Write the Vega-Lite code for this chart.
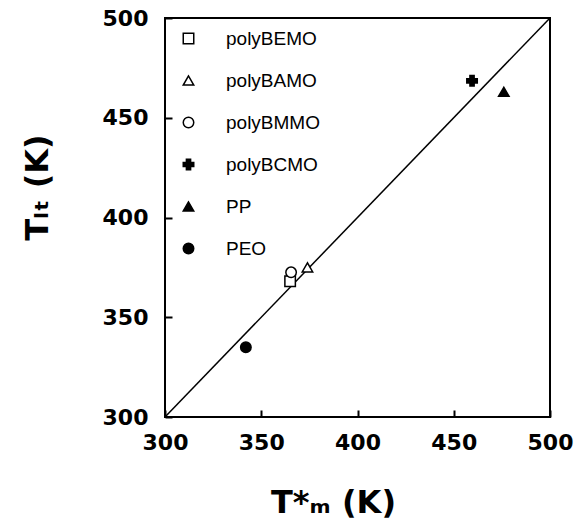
{
  "$schema": "https://vega.github.io/schema/vega-lite/v6.json",
  "width": 385,
  "height": 399,
  "autosize": {"type": "none"},
  "padding": {"left": 165, "top": 18, "right": 27, "bottom": 109},
  "background": "white",
  "config": {
    "view": {"stroke": "black", "strokeWidth": 2},
    "axis": {
      "grid": false,
      "domain": false,
      "labelFlush": false,
      "tickColor": "black",
      "tickSize": -7,
      "tickWidth": 2,
      "labelFont": "DejaVu Sans",
      "labelFontWeight": "bold",
      "labelFontSize": 22,
      "labelColor": "black",
      "titleFont": "DejaVu Sans",
      "titleFontWeight": "bold",
      "titleFontSize": 32,
      "titleColor": "black"
    }
  },
  "layer": [
    {
      "data": {"values": [{"x": 300, "y": 300}, {"x": 500, "y": 500}]},
      "mark": {"type": "line", "color": "black", "strokeWidth": 1.5},
      "encoding": {
        "x": {"field": "x", "type": "quantitative", "scale": {"domain": [300, 500]},
          "axis": {"values": [300, 350, 400, 450, 500], "title": "T*ₘ  (K)", "labelPadding": 22,
            "titleX": 168, "titleY": 85, "titleBaseline": "middle", "titleAlign": "center"}},
        "y": {"field": "y", "type": "quantitative", "scale": {"domain": [300, 500]},
          "axis": {"values": [300, 350, 400, 450, 500], "title": "Tₗₜ  (K)", "labelPadding": 24,
            "titleX": -128, "titleY": 169, "titleAngle": -90, "titleBaseline": "middle", "titleAlign": "center"}}
      }
    },
    {
      "data": {"values": [
        {"series": "polyBEMO", "tm": 365, "tlt": 368},
        {"series": "polyBAMO", "tm": 374, "tlt": 375},
        {"series": "polyBMMO", "tm": 365.5, "tlt": 372.5},
        {"series": "polyBCMO", "tm": 459.5, "tlt": 468.5},
        {"series": "PP", "tm": 476, "tlt": 463},
        {"series": "PEO", "tm": 342, "tlt": 335}
      ]},
      "mark": {"type": "point", "filled": true, "stroke": "black", "strokeWidth": 1.5, "size": 110, "opacity": 1},
      "encoding": {
        "x": {"field": "tm", "type": "quantitative"},
        "y": {"field": "tlt", "type": "quantitative"},
        "shape": {"field": "series", "type": "nominal",
          "scale": {"domain": ["polyBEMO", "polyBAMO", "polyBMMO", "polyBCMO", "PP", "PEO"],
            "range": ["square", "triangle-up", "circle", "cross", "triangle-up", "circle"]},
          "legend": {"title": null, "orient": "none", "legendX": 14, "legendY": 11, "padding": 0,
            "symbolSize": 110, "symbolStrokeColor": "black", "symbolStrokeWidth": 1.5,
            "labelFont": "Liberation Sans", "labelFontSize": 19, "labelColor": "black",
            "labelOffset": 28, "rowPadding": 22, "symbolOpacity": 1,
            "encode": {"symbols": {"update": {"stroke": {"value": "black"}, "strokeWidth": {"value": 1.5}, "opacity": {"value": 1}}}}}},
        "fill": {"field": "series", "type": "nominal",
          "scale": {"domain": ["polyBEMO", "polyBAMO", "polyBMMO", "polyBCMO", "PP", "PEO"],
            "range": ["white", "white", "white", "black", "black", "black"]},
          "legend": {"title": null, "orient": "none", "legendX": 14, "legendY": 11, "padding": 0,
            "symbolSize": 110, "symbolStrokeColor": "black", "symbolStrokeWidth": 1.5,
            "labelFont": "Liberation Sans", "labelFontSize": 19, "labelColor": "black",
            "labelOffset": 28, "rowPadding": 22, "symbolOpacity": 1,
            "encode": {"symbols": {"update": {"stroke": {"value": "black"}, "strokeWidth": {"value": 1.5}, "opacity": {"value": 1}}}}}}
      }
    }
  ]
}
